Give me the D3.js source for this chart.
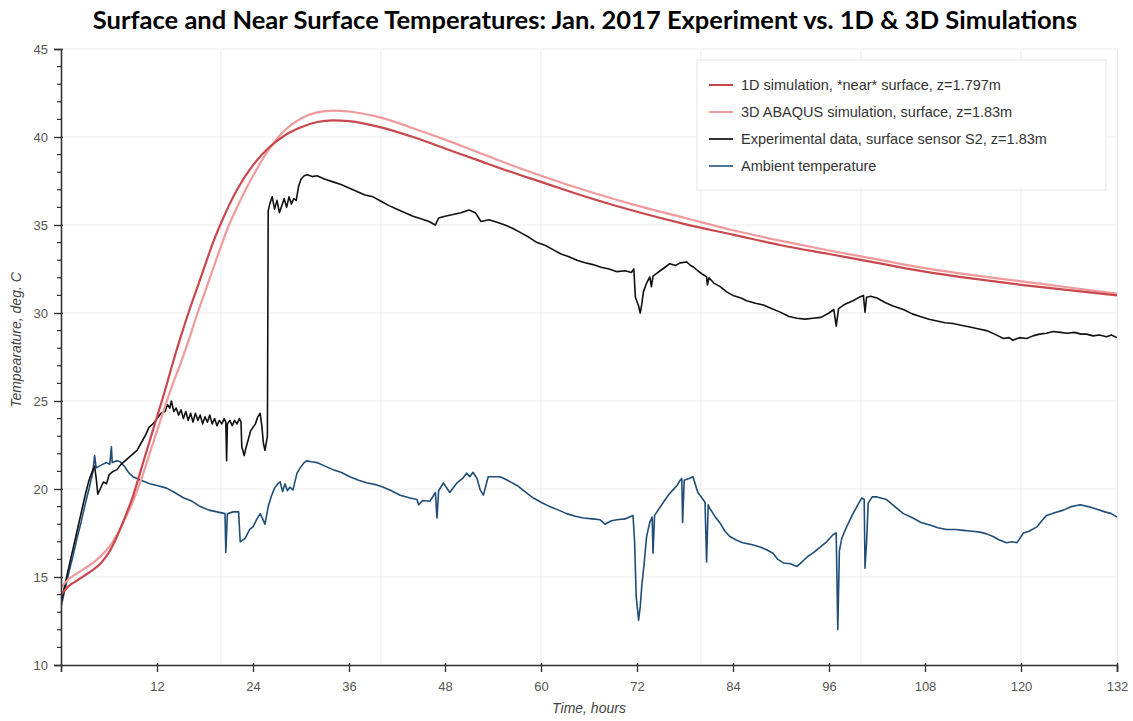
<!DOCTYPE html>
<html><head><meta charset="utf-8">
<script src="https://cdn.jsdelivr.net/npm/d3@7"></script>
<style>
html,body{margin:0;padding:0;background:#fff;}
svg{display:block;}
</style></head>
<body>
<svg id="chart" width="1133" height="721"></svg>
<script>
// ---- data ----
const titleText = "Surface and Near Surface Temperatures: Jan. 2017 Experiment vs. 1D & 3D Simulations";
const xTicks = [12, 24, 36, 48, 60, 72, 84, 96, 108, 120, 132];
const yTicks = [10, 15, 20, 25, 30, 35, 40, 45];
const xGrid = [20, 40, 60, 80, 100, 120];
const seriesNames = [
  "1D simulation, *near* surface, z=1.797m",
  "3D ABAQUS simulation, surface, z=1.83m",
  "Experimental data, surface sensor S2, z=1.83m",
  "Ambient temperature"
];

const sim1dTime = [0,1,2,3,4,5,6,7,8,9,10,11,12,13,14,15,16,17,18,19,20,22,24,26,28,30,32,34,36,40,44,48,52,56,60,66,72,78,84,90,96,102,108,114,120,126,132];
const sim1dTemp = [14.0,14.5,14.8,15.1,15.4,15.8,16.4,17.3,18.4,19.6,21.1,22.6,24.1,25.6,27.2,28.7,30.1,31.4,32.7,34.0,35.1,37.0,38.4,39.4,40.1,40.55,40.85,40.95,40.9,40.55,40.0,39.35,38.7,38.05,37.45,36.55,35.75,35.05,34.45,33.85,33.35,32.85,32.35,31.95,31.6,31.3,31.0];

const sim3dTime = [0,1,2,3,4,5,6,7,8,9,10,11,12,13,14,15,16,17,18,19,20,21,22,24,26,28,30,32,34,36,40,44,48,52,56,60,66,72,78,84,90,96,102,108,114,120,126,132];
const sim3dTemp = [14.4,14.9,15.2,15.5,15.8,16.2,16.7,17.4,18.3,19.3,20.5,21.9,23.3,24.7,26.0,27.2,28.5,29.9,31.2,32.5,33.8,35.0,36.0,37.8,39.3,40.4,41.05,41.4,41.5,41.45,41.1,40.5,39.85,39.15,38.45,37.8,36.9,36.1,35.4,34.7,34.1,33.55,33.05,32.55,32.15,31.8,31.45,31.1];

const expTime = [0,0.5,1,1.5,2,2.5,3,3.5,4,4.2,4.4,4.6,5.0,5.3,5.7,6,6.5,7,7.5,8,8.5,9,9.5,10,10.5,11,11.5,12,12.5,13,13.3,13.6,13.8,14.1,14.4,14.7,15,15.3,15.6,15.9,16.2,16.5,16.8,17.1,17.4,17.7,18,18.3,18.6,18.9,19.2,19.5,19.8,20.1,20.4,20.6,20.7,20.8,21.1,21.4,21.7,22.0,22.3,22.5,22.6,22.9,23.1,23.4,23.7,24.0,24.3,24.6,24.9,25.1,25.3,25.5,25.8,25.9,26.1,26.4,26.7,27.0,27.3,27.6,27.9,28.2,28.5,28.8,29.1,29.4,29.7,30.0,30.4,30.8,31.4,32,33,34,35,36,37,38,39,40,41,42,43,44,45,46,46.8,47.2,48,49,50,51,51.8,52.5,53.5,54.5,55.5,56.5,57.5,58.5,59.5,60.5,61.5,62.5,63.5,64.5,65.5,66.5,67.5,68.5,69.5,70.5,71.3,71.6,71.8,72.2,72.4,72.6,72.8,73.2,73.6,73.8,74.0,74.9,75.5,76.1,76.8,77.4,78.2,78.7,79.1,79.6,80.2,80.7,80.8,81.0,81.6,82.4,83.2,84,85,85.7,86.8,87.8,88.8,89.9,91,92,93,94,95,96,96.6,96.9,97.2,98,99,99.8,100.3,100.5,100.7,101.2,102,103,104,105.3,106.4,107.4,108.5,109.5,110.5,111.5,112.5,113.6,114.6,115.7,116.7,117.8,118.5,119,119.8,120.7,121.5,122.3,123.2,124,124.9,125.8,126.7,127.5,128.2,129,129.8,130.7,131.3,132];
const expTemp = [13.5,14.6,15.6,16.6,17.6,18.6,19.6,20.5,21.1,21.3,20.6,19.7,20.1,20.4,20.3,20.8,21.0,21.1,21.4,21.6,21.8,22.0,22.2,22.6,23.0,23.5,23.7,24.0,24.3,24.4,24.8,24.6,25.0,24.4,24.6,24.2,24.5,24.0,24.4,23.9,24.3,23.8,24.3,23.9,24.2,23.7,24.1,23.8,24.2,23.7,24.0,23.6,23.9,23.7,24.0,23.8,21.6,23.7,23.9,23.6,23.9,23.7,24.0,23.8,22.4,21.9,22.3,22.8,23.3,23.5,23.7,24.1,24.3,23.6,22.6,22.2,23.0,35.8,36.2,36.6,35.9,36.4,35.7,36.1,36.5,36.0,36.6,36.2,36.5,36.4,37.2,37.6,37.8,37.85,37.75,37.8,37.6,37.45,37.3,37.1,36.9,36.7,36.6,36.35,36.1,35.9,35.7,35.5,35.35,35.2,35.0,35.4,35.5,35.6,35.7,35.85,35.7,35.2,35.3,35.15,35.0,34.8,34.55,34.3,34.0,33.85,33.6,33.35,33.2,33.0,32.85,32.75,32.6,32.5,32.35,32.4,32.3,32.5,30.9,30.4,30.0,30.5,31.2,31.7,32.05,31.5,32.1,32.4,32.6,32.8,32.7,32.85,32.9,32.7,32.6,32.4,32.2,32.05,31.6,32.0,31.7,31.5,31.2,31.0,30.85,30.7,30.55,30.45,30.25,30.05,29.8,29.7,29.65,29.7,29.75,30.0,30.2,29.25,30.25,30.5,30.7,30.9,31.0,30.05,30.9,30.95,30.85,30.6,30.4,30.2,29.95,29.8,29.65,29.55,29.45,29.4,29.3,29.2,29.1,29.0,28.8,28.55,28.6,28.45,28.6,28.55,28.7,28.8,28.85,28.95,28.9,28.85,28.9,28.8,28.8,28.7,28.75,28.65,28.75,28.6];

const ambTime = [0,0.5,1,1.5,2,2.5,3,3.5,4,4.2,4.4,4.8,5.2,5.7,6.1,6.3,6.4,7,7.4,8,8.5,9,10,11.1,12,13.2,14.2,15.3,16.4,17.4,18.5,19.5,20.5,20.6,20.8,21.5,22.2,22.4,23.0,23.6,24.0,24.5,24.9,25.5,25.9,26.3,26.7,27.1,27.4,27.7,28.0,28.3,28.6,29.0,29.5,29.9,30.4,30.7,31.3,32,33,34,35,36.1,37.2,38.2,39.3,40.3,41.3,42.4,43.5,44.5,44.7,45.2,46.1,46.8,47.0,47.2,47.8,48.6,49.5,50.2,50.7,51.1,51.5,52.0,52.4,52.8,53.4,54.2,54.9,56,57,58,59,60,61.1,62.2,63.2,64.3,65.3,66.4,67.4,68,68.8,69.5,70.5,71.5,71.7,71.9,72.1,72.2,72.4,72.6,72.9,73.2,73.6,73.9,74.0,74.2,74.5,75.3,76,76.5,77.0,77.4,77.6,77.7,77.9,78.5,79.0,79.6,80.1,80.5,80.7,80.9,81.1,81.8,82.4,83,83.6,84.4,85.2,86.3,87.4,88.2,89,89.6,90.3,91.2,92,92.6,93.3,94.1,94.9,95.7,96.5,96.9,97.1,97.3,97.6,98.2,99,99.6,100.1,100.4,100.5,100.7,100.9,101.4,102,103.2,104.5,105.3,106.5,107.5,108.6,109.6,110.7,111.8,112.8,113.9,114.9,115.7,116.5,117.3,118.2,118.9,119.5,120.3,121,122,122.6,123.2,124.2,125.3,126.3,127.4,128.4,129.5,130.5,131.3,132];
const ambTemp = [13.3,14.3,15.3,16.2,17.2,18.1,19.1,20.0,21.0,21.9,21.2,21.3,21.4,21.5,21.4,22.4,21.5,21.6,21.55,21.25,20.9,20.7,20.5,20.3,20.2,20.05,19.8,19.5,19.3,19.0,18.8,18.7,18.6,16.4,18.6,18.7,18.7,17.0,17.2,17.7,17.85,18.3,18.6,18.0,19.0,19.6,20.05,20.3,20.4,19.85,20.3,19.9,20.1,19.95,20.9,21.2,21.5,21.6,21.55,21.5,21.3,21.1,20.95,20.7,20.5,20.35,20.25,20.1,19.9,19.65,19.5,19.4,19.1,19.35,19.3,19.8,18.35,19.9,20.35,19.8,20.35,20.6,20.9,20.7,20.95,20.6,19.95,19.65,20.7,20.7,20.7,20.45,20.2,19.85,19.5,19.25,19.0,18.8,18.6,18.45,18.35,18.3,18.25,18.0,18.2,18.25,18.3,18.5,17.0,13.9,13.0,12.55,13.3,14.5,15.8,17.3,18.1,18.4,16.35,18.5,18.7,19.25,19.7,19.95,20.2,20.5,20.6,18.1,20.5,20.6,20.7,19.8,19.5,19.25,15.85,19.1,18.9,18.4,18.05,17.6,17.3,17.1,16.95,16.85,16.7,16.55,16.35,16.0,15.8,15.75,15.6,15.85,16.15,16.4,16.7,17.0,17.4,17.5,12.0,16.5,17.2,17.85,18.6,19.1,19.5,19.4,15.5,17.0,19.2,19.55,19.55,19.4,18.9,18.6,18.35,18.1,17.95,17.8,17.7,17.7,17.65,17.6,17.55,17.45,17.3,17.1,16.95,17.0,16.95,17.5,17.6,17.85,18.2,18.5,18.65,18.8,19.0,19.1,19.0,18.85,18.7,18.6,18.4];

// ---- layout ----
const L = 61, R = 1117, T = 49, B = 665;
const svg = d3.select("#chart");
const x = d3.scaleLinear().domain([0, 132]).range([L, R]);
const y = d3.scaleLinear().domain([10, 45]).range([B, T]);

svg.append("text").attr("x", 585).attr("y", 29).attr("text-anchor", "middle")
  .style("font-family", "Lato, 'Open Sans', sans-serif").style("font-weight", "700")
  .style("font-size", "25.5px").attr("fill", "#000").text(titleText);

// grid
const grid = svg.append("g");
grid.selectAll("line.h").data(yTicks.filter(d => d > 10)).join("line")
  .attr("x1", L).attr("x2", R).attr("y1", d => y(d)).attr("y2", d => y(d))
  .attr("stroke", "#ececec").attr("stroke-width", 1);
grid.selectAll("line.v").data(xGrid).join("line")
  .attr("x1", d => x(d)).attr("x2", d => x(d)).attr("y1", T).attr("y2", B)
  .attr("stroke", "#ececec").attr("stroke-width", 1);
svg.append("line").attr("x1", R + 0.5).attr("x2", R + 0.5).attr("y1", T).attr("y2", B)
  .attr("stroke", "#e8e8e8");

// lines
const clip = svg.append("clipPath").attr("id", "pc").append("rect")
  .attr("x", L).attr("y", T - 2).attr("width", R - L + 2).attr("height", B - T + 2);
const lineGen = d3.line().x(d => x(d[0])).y(d => y(d[1]));
const smooth = d3.line().x(d => x(d[0])).y(d => y(d[1])).curve(d3.curveMonotoneX);
const plot = svg.append("g").attr("clip-path", "url(#pc)");
const zip = (a, b) => a.map((v, i) => [v, b[i]]);

const colors = ["#c9484e", "#f09a9c", "#111111", "#1f4d78"];

plot.append("path").datum(zip(ambTime, ambTemp)).attr("d", lineGen)
  .attr("fill", "none").attr("stroke", colors[3]).attr("stroke-width", 1.6).attr("stroke-linejoin", "round");
plot.append("path").datum(zip(expTime, expTemp)).attr("d", lineGen)
  .attr("fill", "none").attr("stroke", colors[2]).attr("stroke-width", 1.6).attr("stroke-linejoin", "round");
plot.append("path").datum(zip(sim3dTime, sim3dTemp)).attr("d", smooth)
  .attr("fill", "none").attr("stroke", colors[1]).attr("stroke-width", 2.2);
plot.append("path").datum(zip(sim1dTime, sim1dTemp)).attr("d", smooth)
  .attr("fill", "none").attr("stroke", colors[0]).attr("stroke-width", 2.2);

// axes
const axisFont = "'Liberation Sans', Arial, sans-serif";
const yAxis = d3.axisLeft(y).tickValues(yTicks).tickSize(7).tickPadding(6).tickFormat(d3.format("d"));
const yA = svg.append("g").attr("transform", `translate(${L},0)`).call(yAxis);
const yMinor = d3.range(11, 45).filter(v => v % 5 !== 0);
svg.append("g").selectAll("line").data(yMinor).join("line")
  .attr("x1", L - 4).attr("x2", L).attr("y1", d => y(d)).attr("y2", d => y(d))
  .attr("stroke", "#333").attr("stroke-width", 1.2);
const xAxis = d3.axisBottom(x).tickValues(xTicks).tickSize(7).tickPadding(10).tickFormat(d3.format("d"));
const xA = svg.append("g").attr("transform", `translate(0,${B})`).call(xAxis);
[yA, xA].forEach(g => {
  g.select(".domain").attr("stroke", "#333").attr("stroke-width", 1.6);
  g.selectAll(".tick line").attr("stroke", "#333").attr("stroke-width", 1.4);
  g.selectAll(".tick text").attr("fill", "#555").style("font-family", axisFont).style("font-size", "13px");
});
yA.selectAll(".tick line").attr("x2", 2).attr("x1", -7);
xA.selectAll(".tick line").attr("y1", -2);

svg.append("text").attr("transform", `translate(21,340) rotate(-90)`)
  .attr("text-anchor", "middle").style("font-family", axisFont).style("font-style", "italic")
  .style("font-size", "14px").attr("fill", "#444").text("Tempearature, deg. C");
svg.append("text").attr("x", (L + R) / 2).attr("y", 713).attr("text-anchor", "middle")
  .style("font-family", axisFont).style("font-style", "italic")
  .style("font-size", "14px").attr("fill", "#444").text("Time, hours");

// legend
const lg = svg.append("g");
lg.append("rect").attr("x", 697).attr("y", 60).attr("width", 409).attr("height", 130)
  .attr("fill", "#fff").attr("stroke", "#e6e6e6").attr("stroke-width", 1);
const legendY = [85, 112, 139, 166];
seriesNames.forEach((n, i) => {
  lg.append("line").attr("x1", 709).attr("x2", 733).attr("y1", legendY[i]).attr("y2", legendY[i])
    .attr("stroke", i === 3 ? "#4d7699" : (i === 2 ? "#333" : colors[i])).attr("stroke-width", 2);
  lg.append("text").attr("x", 741).attr("y", legendY[i] + 5).text(n)
    .style("font-family", axisFont).style("font-size", "14.5px").attr("fill", "#333");
});
</script>
</body></html>
